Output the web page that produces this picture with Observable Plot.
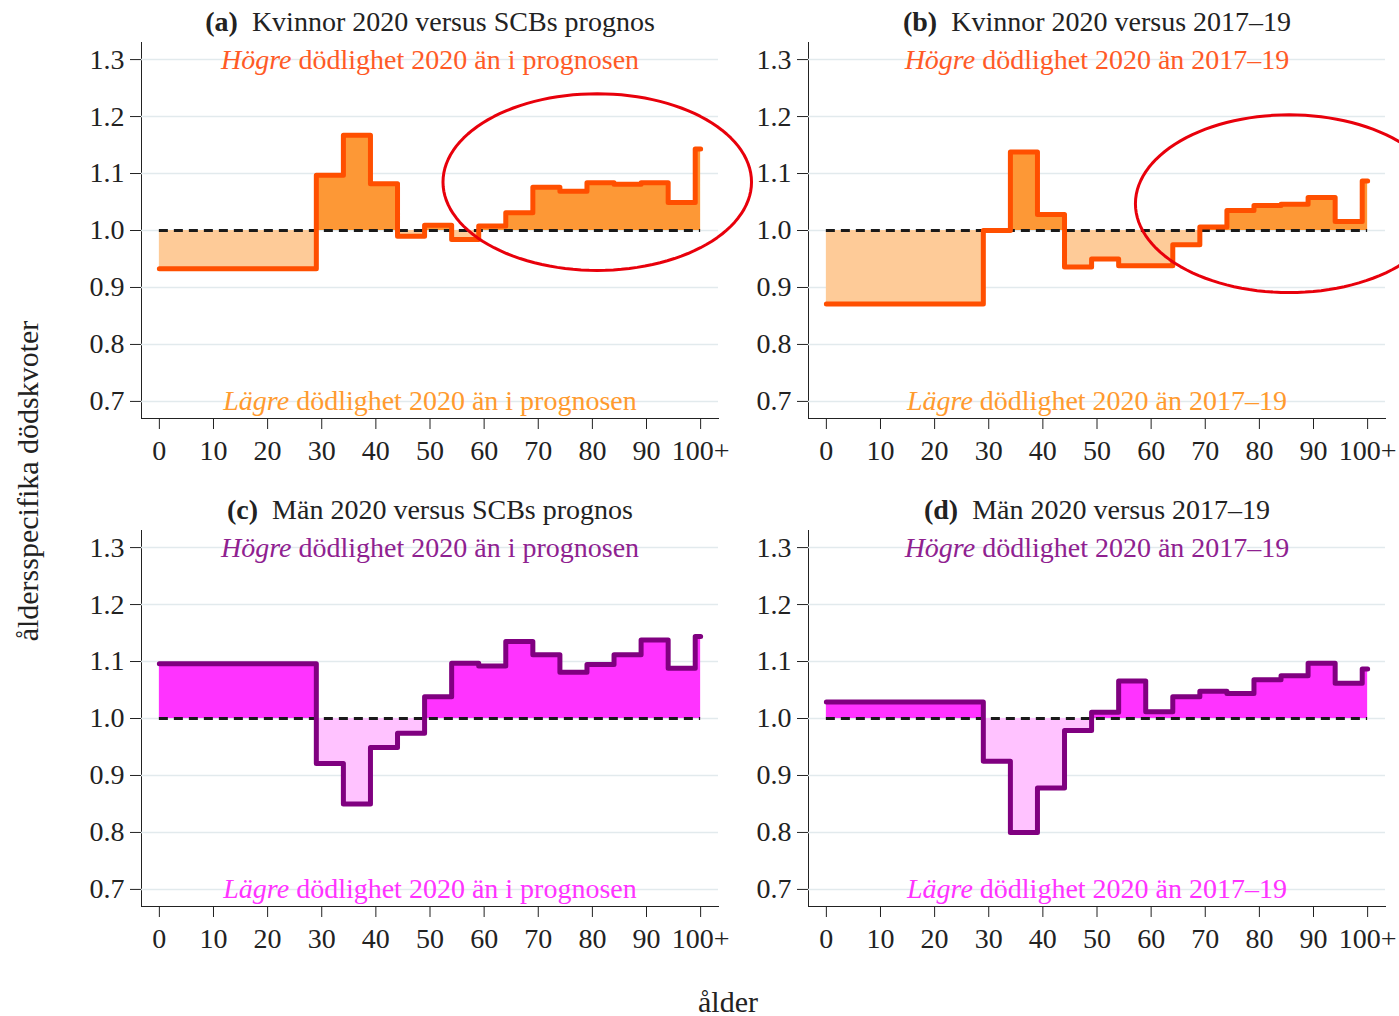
<!DOCTYPE html>
<html><head><meta charset="utf-8">
<script src="https://cdn.jsdelivr.net/npm/d3@7"></script>
<script src="https://cdn.jsdelivr.net/npm/@observablehq/plot@0.6"></script>
<style>
html,body{margin:0;padding:0;background:#fff;}
body{width:1399px;height:1016px;position:relative;overflow:hidden;font-family:"Liberation Serif","Times New Roman",serif;color:#222;}
.panel{position:absolute;}
.ytitle{position:absolute;left:28px;top:481px;transform:translate(-50%,-50%) rotate(-90deg);font-size:30px;white-space:nowrap;color:#222;}
.xtitle{position:absolute;left:728px;top:1002px;transform:translate(-50%,-50%);font-size:30px;white-space:nowrap;color:#222;}
</style></head><body>
<div id="root"></div>
<div class="ytitle">åldersspecifika dödskvoter</div>
<div class="xtitle">ålder</div>
<script>
// Age groups (start age of each group); 100 = "100+"
const groupStarts = [0, 30, 35, 40, 45, 50, 55, 60, 65, 70, 75, 80, 85, 90, 95, 100];
// Age-specific mortality ratios
const kvinnorVsPrognos = [0.933, 1.097, 1.167, 1.082, 0.990, 1.009, 0.984, 1.008, 1.031, 1.076, 1.069, 1.084, 1.081, 1.084, 1.049, 1.143];
const kvinnorVs1719    = [0.871, 1.000, 1.138, 1.028, 0.936, 0.950, 0.938, 0.938, 0.975, 1.006, 1.035, 1.044, 1.046, 1.058, 1.016, 1.087];
const manVsPrognos     = [1.096, 0.921, 0.850, 0.949, 0.974, 1.038, 1.097, 1.092, 1.135, 1.112, 1.081, 1.095, 1.112, 1.138, 1.088, 1.144];
const manVs1719        = [1.029, 0.925, 0.800, 0.878, 0.979, 1.011, 1.066, 1.012, 1.038, 1.048, 1.044, 1.068, 1.075, 1.097, 1.062, 1.087];
// Tick values
const yTicks = [0.7, 0.8, 0.9, 1.0, 1.1, 1.2, 1.3];
const xTicks = [0, 10, 20, 30, 40, 50, 60, 70, 80, 90, 100];
// Panel titles and annotation texts
const panelTitles = ["(a)  Kvinnor 2020 versus SCBs prognos", "(b)  Kvinnor 2020 versus 2017–19", "(c)  Män 2020 versus SCBs prognos", "(d)  Män 2020 versus 2017–19"];
const higherTexts = ["Högre dödlighet 2020 än i prognosen", "Högre dödlighet 2020 än 2017–19", "Högre dödlighet 2020 än i prognosen", "Högre dödlighet 2020 än 2017–19"];
const lowerTexts  = ["Lägre dödlighet 2020 än i prognosen", "Lägre dödlighet 2020 än 2017–19", "Lägre dödlighet 2020 än i prognosen", "Lägre dödlighet 2020 än 2017–19"];
// Red highlight ellipses (center age, center ratio, radius in years, radius in ratio)
const highlightA = {cx: 80.9, cy: 1.085, rx: 28.5, ry: 0.155};
const highlightB = {cx: 85.5, cy: 1.047, rx: 28.4, ry: 0.156};

const women = {line: "#ff4f00", dark: "#fd9836", light: "#fecb98", hi: "#ff5a26", lo: "#ff9a2e"};
const men   = {line: "#800080", dark: "#ff33ff", light: "#ffc2ff", hi: "#8f2190", lo: "#ff33ff"};

const panels = [
  {values: kvinnorVsPrognos, pal: women, i: 0, left: 0,   top: 0,   hl: highlightA},
  {values: kvinnorVs1719,    pal: women, i: 1, left: 667, top: 0,   hl: highlightB},
  {values: manVsPrognos,     pal: men,   i: 2, left: 0,   top: 488, hl: null},
  {values: manVs1719,        pal: men,   i: 3, left: 667, top: 488, hl: null}
];

function expand(values) {
  return d3.range(0, 101).map(age => ({age, v: values[d3.bisectRight(groupStarts, age) - 1]}));
}
function ellipse(h) {
  return d3.range(0, 360, 3).map(deg => {
    const t = deg * Math.PI / 180;
    return {x: h.cx + h.rx * Math.cos(t), y: h.cy + h.ry * Math.sin(t)};
  });
}

const root = document.getElementById("root");
for (const p of panels) {
  const rows = expand(p.values);
  const marks = [
    Plot.ruleY(yTicks, {stroke: "#e2eaed", strokeWidth: 1.5}),
    Plot.areaY(rows, {x: "age", y1: () => 1, y2: d => Math.min(d.v, 1), curve: "step-before", fill: p.pal.light}),
    Plot.areaY(rows, {x: "age", y1: () => 1, y2: d => Math.max(d.v, 1), curve: "step-before", fill: p.pal.dark}),
    Plot.ruleY([1], {x1: 0, x2: 100, stroke: "#1a1a1a", strokeWidth: 3, strokeDasharray: "9,6"}),
    Plot.line(rows, {x: "age", y: "v", curve: "step-before", stroke: p.pal.line, strokeWidth: 5, strokeLinejoin: "round", strokeLinecap: "round"}),
    Plot.text([{x: 50, y: 1.3, t: higherTexts[p.i]}], {x: "x", y: "y", text: "t", fill: p.pal.hi, fontSize: 28, lineAnchor: "middle"}),
    Plot.text([{x: 50, y: 0.7, t: lowerTexts[p.i]}], {x: "x", y: "y", text: "t", fill: p.pal.lo, fontSize: 28, lineAnchor: "middle"}),
    Plot.text([panelTitles[p.i]], {text: d => d, frameAnchor: "top", dy: -20, fill: "#222", fontSize: 28, lineAnchor: "middle"})
  ];
  if (p.hl) marks.push(Plot.line(ellipse(p.hl), {x: "x", y: "y", curve: "linear-closed", stroke: "#e8000b", strokeWidth: 3}));
  const chart = Plot.plot({
    width: 730, height: 468,
    marginLeft: 141, marginRight: 12, marginTop: 42, marginBottom: 50,
    style: {fontFamily: "Liberation Serif, Times New Roman, serif", fontSize: "28px", color: "#222", background: "transparent", overflow: "visible", maxWidth: "none"},
    x: {domain: [-3.3, 103.3], ticks: xTicks, tickFormat: d => d === 100 ? "100+" : String(d), tickSize: 11, tickPadding: 11, line: true, label: null},
    y: {domain: [0.67, 1.33], ticks: yTicks, tickFormat: d3.format(".1f"), tickSize: 11, tickPadding: 6, line: true, label: null},
    marks
  });
  d3.select(chart).selectAll("text").each(function() {
    const t = this.textContent;
    let m = t.match(/^(Högre|Lägre)( .*)$/);
    if (m) {
      this.textContent = "";
      d3.select(this).style("white-space", "pre");
      d3.select(this).append("tspan").attr("font-style", "italic").text(m[1]);
      d3.select(this).append("tspan").text(m[2]);
      return;
    }
    m = t.match(/^(\([a-d]\))(\s+.*)$/);
    if (m) {
      this.textContent = "";
      d3.select(this).style("white-space", "pre");
      d3.select(this).append("tspan").attr("font-weight", "bold").text(m[1]);
      d3.select(this).append("tspan").text(m[2]);
    }
  });
  const div = document.createElement("div");
  div.className = "panel";
  div.style.left = p.left + "px";
  div.style.top = p.top + "px";
  div.appendChild(chart);
  root.appendChild(div);
}
</script>
</body></html>
